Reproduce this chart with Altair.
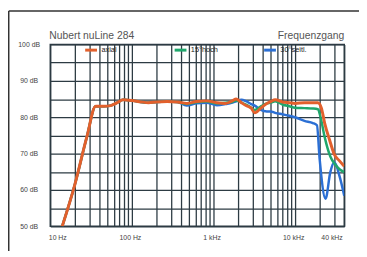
import altair as alt
import pandas as pd

title_left = "Nubert nuLine 284"
title_right = "Frequenzgang"
series_names = ["axial", "15°hoch", "30°seitl."]
series_colors = ["#e2602c", "#1fa76c", "#2b6fd4"]

freq_axial = [14, 20, 28, 36, 45, 55, 66, 78, 100, 130, 160, 200, 270, 360, 470, 620, 820,
              1100, 1400, 1700, 1900, 2200, 2500, 2900, 3200, 3800, 4500, 5000, 5700, 7000,
              8500, 10000, 13000, 16500, 19000, 21000, 23000, 26400, 30300, 35000, 40000]
db_axial = [50, 61.5, 74.5, 83, 83, 83.2, 84, 84.8, 84.6, 84.2, 84, 84.2, 84.3, 84.2, 83.8, 84.3, 84.5,
            84, 83.8, 84.5, 85, 84, 83.2, 82.5, 81.2, 82.5, 83.8, 84.3, 84.8, 84.2,
            84, 83.8, 84, 84, 84, 82.5, 78.4, 73.8, 69.7, 68, 66.5]

freq_hoch = [14, 20, 28, 36, 45, 55, 66, 78, 100, 130, 160, 200, 270, 360, 470, 620, 820,
             1100, 1400, 1700, 1900, 2200, 2500, 2900, 3200, 3800, 4500, 5000, 5700, 7000,
             8500, 10000, 13000, 16500, 19000, 20500, 23000, 27000, 31000, 35000, 40000]
db_hoch = [50, 61.5, 74.5, 83, 83, 83.2, 84, 84.8, 84.6, 84.2, 84, 84.2, 84.3, 84.2, 83.6, 84.1, 84.3,
           83.8, 84, 84.2, 84.6, 84, 83.5, 82.6, 82, 83, 83.8, 84, 84.4, 83.5,
           83, 82.6, 82.5, 82.4, 82.2, 80, 74.6, 69.2, 67, 65.7, 64.9]

freq_seitl = [14, 20, 28, 36, 45, 55, 66, 78, 100, 130, 160, 200, 270, 360, 470, 620, 820,
              1100, 1400, 1700, 1900, 2200, 2500, 2900, 3200, 3800, 4500, 5000, 5700, 7000,
              8500, 10000, 13000, 16500, 18500, 20000, 23600, 27000, 30300, 35000, 40000]
db_seitl = [50, 61.5, 74.5, 83, 83, 83.2, 84, 84.8, 84.6, 84.2, 84, 84.2, 84.3, 84.2, 83.2, 83.8, 84,
            83.3, 83.6, 84, 84.4, 84.8, 84.4, 83.6, 83.2, 82, 81.6, 81.6, 81.2, 80.8,
            80.4, 80, 79, 78.4, 77.8, 68.4, 57.6, 64.9, 67.6, 63.8, 58.4]

grid_freqs = [10, 20, 30, 40, 50, 60, 70, 80, 90,
              100, 200, 300, 400, 500, 600, 700, 800, 900,
              1000, 2000, 3000, 4000, 5000, 6000, 7000, 8000, 9000,
              10000, 20000, 30000, 40000]
x_label_vals = [10, 100, 1000, 10000, 40000]
x_label_txt = ["10 Hz", "100 Hz", "1 kHz", "10 kHz", "40 kHz"]
y_grid = [50, 55, 60, 65, 70, 75, 80, 85, 90, 95, 100]

rows = []
for name, fs, ds in [(series_names[0], freq_axial, db_axial),
                     (series_names[1], freq_hoch, db_hoch),
                     (series_names[2], freq_seitl, db_seitl)]:
    for f, d in zip(fs, ds):
        rows.append({"series": name, "freq": f, "db": d})
df = pd.DataFrame(rows)

x_expr = " : ".join(f"datum.value == {v} ? '{t}'" for v, t in zip(x_label_vals, x_label_txt)) + " : ''"

GRID = "#2d3b43"
FONT = "Liberation Sans"

xenc = alt.X("freq:Q", scale=alt.Scale(type="log", domain=[10, 40000], nice=False),
             axis=alt.Axis(values=grid_freqs, labelExpr=x_expr, title=None, ticks=False,
                           domain=False, gridColor=GRID, gridWidth=1.3, gridOpacity=1,
                           labelFontSize=7, labelColor="#444", labelPadding=7,
                           labelOverlap=False, labelFont=FONT, labelOffset=-2))
yenc = alt.Y("db:Q", scale=alt.Scale(domain=[50, 100], nice=False),
             axis=alt.Axis(values=y_grid, labelExpr="datum.value % 10 == 0 ? datum.value + ' dB' : ''",
                           title=None, ticks=False, domain=False, gridColor=GRID, gridWidth=1.3,
                           gridOpacity=1, labelFontSize=7, labelColor="#444", labelPadding=22,
                           labelAlign="center", labelFont=FONT, labelOverlap=False))

legend = alt.Legend(orient="none", legendX=34, legendY=-2, direction="horizontal", title=None,
                    symbolType="stroke", symbolSize=144, symbolStrokeWidth=3,
                    labelFontSize=7.5, labelOffset=3, columnPadding=40, gridAlign="all",
                    labelColor="#222", labelFont=FONT, padding=0)
cenc = alt.Color("series:N", scale=alt.Scale(domain=series_names, range=series_colors), legend=legend)

base = alt.Chart(df)
layers = []
for name, sw in [(series_names[2], 2.5), (series_names[1], 2.5), (series_names[0], 3)]:
    layers.append(base.transform_filter(alt.datum.series == name)
                  .mark_line(strokeWidth=sw, interpolate="monotone", clip=True)
                  .encode(x=xenc, y=yenc, color=cenc))

tdf = pd.DataFrame({"a": [0]})
t_left = alt.Chart(tdf).mark_text(align="left", baseline="alphabetic", fontSize=10.5, color="#555",
                                  font=FONT, text=title_left).encode(x=alt.value(-1), y=alt.value(-6))
t_right = alt.Chart(tdf).mark_text(align="right", baseline="alphabetic", fontSize=10.5, color="#555",
                                   font=FONT, text=title_right).encode(x=alt.value(299), y=alt.value(-6))
frame_top = alt.Chart(tdf).mark_rule(color="#333", strokeWidth=1.5).encode(
    x=alt.value(-42.25), x2=alt.value(314), y=alt.value(-34))
frame_left = alt.Chart(tdf).mark_rule(color="#333", strokeWidth=1.5).encode(
    x=alt.value(-42.25), y=alt.value(-34), y2=alt.value(210))

chart = alt.layer(*layers, t_left, t_right, frame_top, frame_left).properties(
    width=299, height=185, autosize="none",
    padding={"left": 43, "top": 35, "right": 15, "bottom": 25},
    background="white",
).configure_view(stroke=GRID, strokeWidth=1.5)

chart.save("out.html", embed_options={"renderer": "svg", "actions": False})
